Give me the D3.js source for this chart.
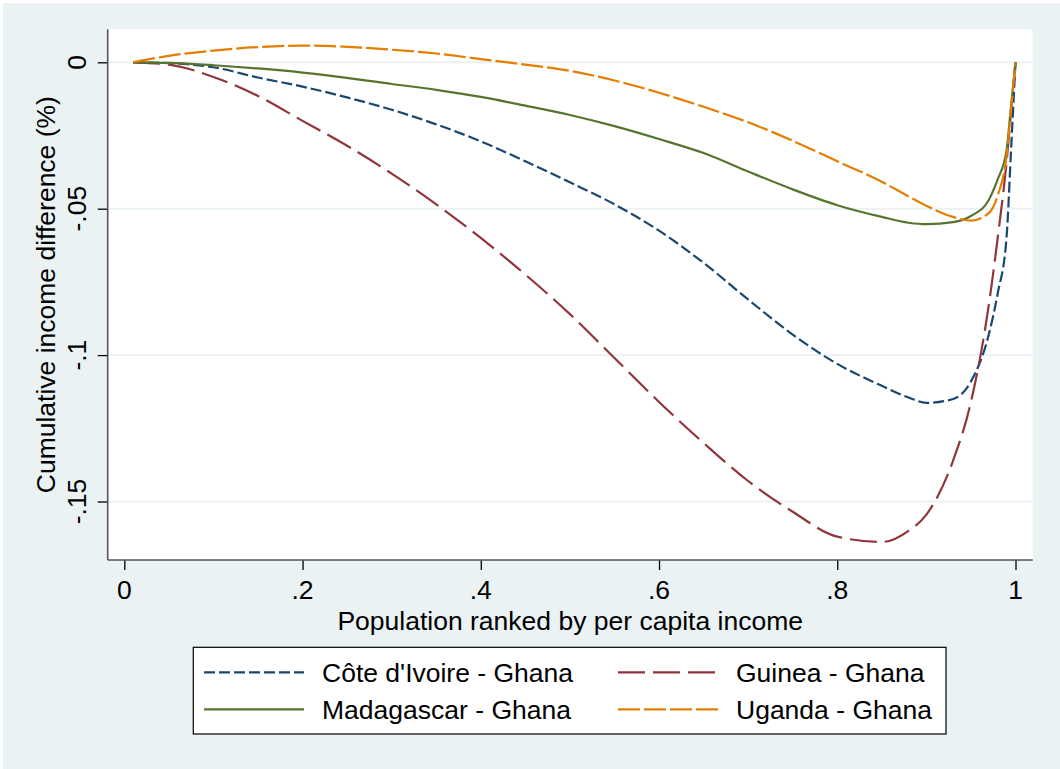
<!DOCTYPE html>
<html>
<head>
<meta charset="utf-8">
<script src="https://cdn.jsdelivr.net/npm/d3@7"></script>
<style>
  html, body { margin: 0; padding: 0; background: #ffffff; }
  svg { display: block; font-family: "Liberation Sans", Arial, sans-serif; }
</style>
</head>
<body>
<svg id="chart" width="1060" height="769"></svg>
<script>
// Population share (x) at which each curve is sampled
const popShare = [0.01, 0.05, 0.10, 0.15, 0.20, 0.25, 0.30, 0.35, 0.40, 0.45, 0.50,
                  0.55, 0.60, 0.65, 0.70, 0.75, 0.80, 0.85, 0.88, 0.90, 0.93, 0.95,
                  0.97, 0.98, 0.99, 0.995, 1.00];

// Cumulative income difference for each country pair
const coteDIvoire = [0, -0.0003, -0.0017, -0.0052, -0.0083, -0.0120, -0.0162, -0.0212, -0.0270, -0.0338, -0.0410,
                     -0.0485, -0.0575, -0.0685, -0.0810, -0.0930, -0.1030, -0.1105, -0.1145, -0.1163, -0.1150, -0.1090,
                     -0.0930, -0.0790, -0.0596, -0.0300, 0];
const guinea      = [0, -0.0008, -0.0050, -0.0115, -0.0200, -0.0285, -0.0380, -0.0485, -0.0600, -0.0725, -0.0860,
                     -0.1010, -0.1160, -0.1300, -0.1430, -0.1535, -0.1620, -0.1638, -0.1600, -0.1545, -0.1360, -0.1160,
                     -0.0830, -0.0600, -0.0340, -0.0170, 0];
const madagascar  = [0, -0.0002, -0.0010, -0.0021, -0.0035, -0.0053, -0.0074, -0.0094, -0.0118, -0.0148, -0.0180,
                     -0.0218, -0.0262, -0.0310, -0.0373, -0.0434, -0.0488, -0.0528, -0.0548, -0.0553, -0.0546, -0.0525,
                     -0.0470, -0.0400, -0.0300, -0.0150, 0];
const uganda      = [0, 0.0022, 0.0040, 0.0052, 0.0057, 0.0053, 0.0043, 0.0030, 0.0011, -0.0008, -0.0029,
                     -0.0062, -0.0104, -0.0152, -0.0205, -0.0268, -0.0338, -0.0408, -0.0458, -0.0490, -0.0528, -0.0541,
                     -0.0515, -0.0455, -0.0320, -0.0160, 0];

const xTicks = [0, 0.2, 0.4, 0.6, 0.8, 1];
const xTickLabels = ["0", ".2", ".4", ".6", ".8", "1"];
const yTicks = [0, -0.05, -0.1, -0.15];
const yTickLabels = ["0", "-.05", "-.1", "-.15"];

const seriesNames = ["Côte d'Ivoire - Ghana", "Guinea - Ghana", "Madagascar - Ghana", "Uganda - Ghana"];
const seriesValues = [coteDIvoire, guinea, madagascar, uganda];
const seriesColors = ["#1a476f", "#90353b", "#55752f", "#e37e00"];
const seriesDash = ["11,4", "27,8", null, "22,4"];

const xTitle = "Population ranked by per capita income";
const yTitle = "Cumulative income difference (%)";

// ---- layout ----
const W = 1060, H = 769;
const plot = { left: 107.7, right: 1032.7, top: 29.3, bottom: 560 };
const bg = "#eaf2f3";
const fontSize = 26.5;

const svg = d3.select("#chart");

// Outer graph region
svg.append("rect").attr("x", 0).attr("y", 0).attr("width", W).attr("height", H).attr("fill", "#ffffff");
svg.append("rect").attr("x", 3).attr("y", 3).attr("width", W - 3).attr("height", H - 3).attr("fill", bg);

// Plot region
svg.append("rect")
  .attr("x", plot.left).attr("y", plot.top)
  .attr("width", plot.right - plot.left).attr("height", plot.bottom - plot.top)
  .attr("fill", "#ffffff");

const x = d3.scaleLinear().domain([0, 1]).range([124.3, 1015.5]);
const y = d3.scaleLinear().domain([0, -0.15]).range([62.3, 501.5]);

// Horizontal grid lines
svg.append("g").selectAll("line").data(yTicks).join("line")
  .attr("x1", plot.left).attr("x2", plot.right)
  .attr("y1", d => y(d)).attr("y2", d => y(d))
  .attr("stroke", bg).attr("stroke-width", 2);

// Y axis
const yAxis = d3.axisLeft(y).tickValues(yTicks).tickSize(10).tickFormat("");
const gy = svg.append("g").attr("transform", `translate(${plot.left},0)`).call(yAxis);
gy.select(".domain").remove();
gy.selectAll(".tick line").attr("stroke", "#000").attr("stroke-width", 1.3);
svg.append("line")
  .attr("x1", plot.left).attr("x2", plot.left)
  .attr("y1", plot.top).attr("y2", plot.bottom)
  .attr("stroke", "#555").attr("stroke-width", 1.6);

svg.append("g").selectAll("text").data(yTicks).join("text")
  .attr("transform", d => `translate(86,${y(d)}) rotate(-90)`)
  .attr("text-anchor", "middle")
  .attr("font-size", fontSize)
  .attr("fill", "#000")
  .text((d, i) => yTickLabels[i]);

// X axis
const xAxis = d3.axisBottom(x).tickValues(xTicks).tickSize(10).tickFormat("");
const gx = svg.append("g").attr("transform", `translate(0,${plot.bottom})`).call(xAxis);
gx.select(".domain").remove();
gx.selectAll(".tick line").attr("stroke", "#000").attr("stroke-width", 1.3);
svg.append("line")
  .attr("x1", plot.left).attr("x2", plot.right)
  .attr("y1", plot.bottom).attr("y2", plot.bottom)
  .attr("stroke", "#555").attr("stroke-width", 1.6);

svg.append("g").selectAll("text").data(xTicks).join("text")
  .attr("x", d => x(d)).attr("y", 599)
  .attr("text-anchor", "middle")
  .attr("font-size", fontSize)
  .attr("fill", "#000")
  .text((d, i) => xTickLabels[i]);

// Axis titles
svg.append("text")
  .attr("x", (plot.left + plot.right) / 2).attr("y", 629.5)
  .attr("text-anchor", "middle").attr("font-size", fontSize).attr("fill", "#000")
  .text(xTitle);

svg.append("text")
  .attr("transform", `translate(55,${(plot.top + plot.bottom) / 2}) rotate(-90)`)
  .attr("text-anchor", "middle").attr("font-size", fontSize).attr("fill", "#000")
  .text(yTitle);

// Curves
const line = d3.line()
  .x((d, i) => x(popShare[i]))
  .y(d => y(d))
  .curve(d3.curveMonotoneX);

svg.append("g").selectAll("path").data(seriesValues).join("path")
  .attr("d", d => line(d))
  .attr("fill", "none")
  .attr("stroke", (d, i) => seriesColors[i])
  .attr("stroke-width", 2.2)
  .attr("stroke-linejoin", "round")
  .attr("stroke-dasharray", (d, i) => seriesDash[i]);

// Legend
const legend = svg.append("g");
legend.append("rect")
  .attr("x", 193.3).attr("y", 647.3).attr("width", 946 - 193.3).attr("height", 734 - 647.3)
  .attr("fill", "#ffffff").attr("stroke", "#000").attr("stroke-width", 1.2);

const legendPos = [
  { lx: 204, tx: 322, y: 672.3 },
  { lx: 618, tx: 736, y: 672.3 },
  { lx: 204, tx: 322, y: 709.3 },
  { lx: 618, tx: 736, y: 709.3 }
];

const items = legend.selectAll("g.item").data(seriesNames).join("g").attr("class", "item");
items.append("line")
  .attr("x1", (d, i) => legendPos[i].lx).attr("x2", (d, i) => legendPos[i].lx + 100)
  .attr("y1", (d, i) => legendPos[i].y).attr("y2", (d, i) => legendPos[i].y)
  .attr("stroke", (d, i) => seriesColors[i])
  .attr("stroke-width", 2.2)
  .attr("stroke-dasharray", (d, i) => seriesDash[i]);
items.append("text")
  .attr("x", (d, i) => legendPos[i].tx).attr("y", (d, i) => legendPos[i].y)
  .attr("dy", "0.35em")
  .attr("font-size", fontSize).attr("fill", "#000")
  .text(d => d);
</script>
</body>
</html>
